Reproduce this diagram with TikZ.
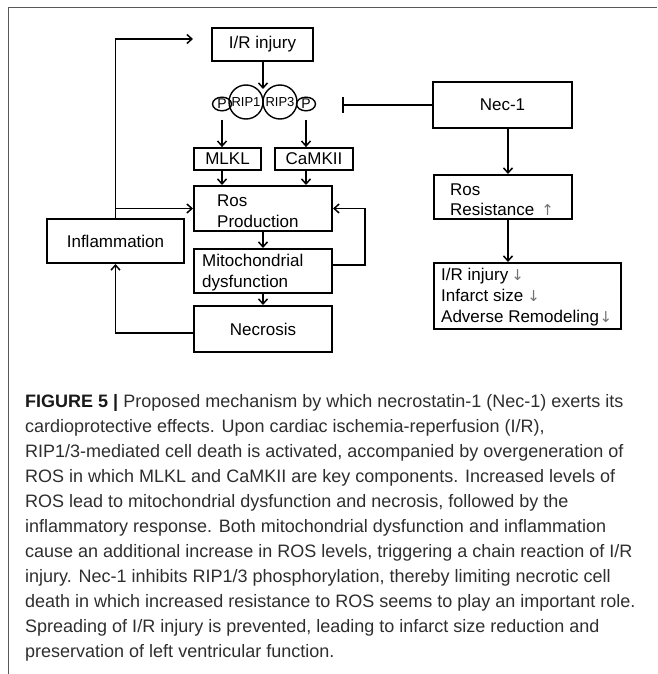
\documentclass[tikz,border=0pt]{standalone}
\usepackage{fontspec}
\setmainfont{Liberation Sans}
\newfontfamily\arrowfont{DejaVu Sans}
\usetikzlibrary{arrows.meta,calc,shapes.geometric}
\begin{document}
\begin{tikzpicture}[x=1pt,y=-1pt,
  box/.style={draw, line width=2pt, inner sep=0pt, font=\fontsize{17}{21}\selectfont},
  sbox/.style={draw, line width=1.8pt, inner sep=0pt, font=\fontsize{17}{21}\selectfont},
  txt/.style={inner sep=0pt, anchor=base west, font=\fontsize{17}{21}\selectfont},
  circ/.style={draw, circle, line width=1.4pt, minimum size=34pt, inner sep=0pt, font=\fontsize{13}{15}\selectfont},
  pell/.style={draw, ellipse, line width=1.4pt, minimum width=19pt, minimum height=12.5pt, inner sep=0pt, font=\fontsize{14}{14}\selectfont},
  arr/.style={line width=1.5pt, -{Straight Barb[length=5pt,width=9pt,line width=1.5pt]}},
  inh/.style={line width=1.7pt, -{Bar[width=16pt,line width=1.7pt]}},
  captxt/.style={inner sep=0pt, anchor=base west, font=\fontsize{18}{25}\selectfont, text=black!82}]
\newcommand\upar{{\arrowfont\fontsize{15}{15}\selectfont\color{black!55}↑}}
\newcommand\dnar{{\arrowfont\fontsize{15}{15}\selectfont\color{black!55}↓}}
\useasboundingbox (0,0) rectangle (657,674);
\draw[black!65, line width=1pt] (8,674) -- (8,8) -- (657,8);

% left pathway
\node[box, minimum width=101pt, minimum height=33pt] (ir) at (262.5,44.5) {I/R injury};
\node[circ] (rip1) at (246,102) {RIP1};
\node[circ] (rip3) at (280,102) {RIP3};
\node[pell] (pl) at (222,104) {P};
\node[pell] (pr) at (306,104) {P};
\coordinate (j) at (263,89);
\draw[arr] (ir.south -| j) -- (j);

\node[sbox, minimum width=67pt, minimum height=22pt] (mlkl) at (227.5,159) {MLKL};
\node[sbox, minimum width=78pt, minimum height=22pt] (camk) at (314,159) {CaMKII};
\draw[arr, shorten <=8pt] (pl.south) -- (mlkl.north -| pl);
\draw[arr, shorten <=8pt] (pr.south) -- (camk.north -| pr);

\node[box, minimum width=138pt, minimum height=45pt] (ros) at (263,208.5) {};
\node[txt] (rosA) at (217,206) {Ros};
\node[txt] (rosB) at (217,227) {Production};
\draw[arr] (mlkl.south -| pl) -- (ros.north -| pl);
\draw[arr] (camk.south -| pr) -- (ros.north -| pr);

\node[box, minimum width=138pt, minimum height=44pt] (mito) at (263,271) {};
\node[txt] (mitoA) at (202,266) {Mitochondrial};
\node[txt] (mitoB) at (202,287) {dysfunction};
\node[box, minimum width=138pt, minimum height=46pt] (necr) at (263,329) {Necrosis};
\draw[arr] (ros.south) -- (mito.north);
\draw[arr] (mito.south) -- (necr.north);

\node[box, minimum width=137pt, minimum height=44pt] (infl) at (115.5,241) {Inflammation};
\coordinate (tr) at (193,39);
\draw[arr] (infl.north) -- (infl.north |- tr) -- (tr);
\draw[arr] (infl.north |- ros.west) -- (ros.west);
\coordinate (nw) at ($(necr.west)+(0,4)$);
\draw[arr] (nw) -- (nw -| infl.south) -- (infl.south);
\coordinate (fb) at (365,0);
\coordinate (me) at ($(mito.east)+(0,-6)$);
\draw[arr] (me) -- (me -| fb) -- (ros.east -| fb) -- (ros.east);

% right pathway
\node[box, minimum width=139pt, minimum height=46pt] (nec) at (502.5,105) {Nec-1};
\coordinate (inhend) at (342,105);
\draw[inh] (nec.west) -- (inhend);
\node[box, minimum width=138pt, minimum height=44pt] (rr) at (503,197) {};
\node[txt] (rrA) at (450,195) {Ros};
\node[txt] (rrB) at (450,215) {Resistance\hspace{7pt}\upar};
\node[box, minimum width=187pt, minimum height=66pt] (res) at (527.5,296) {};
\node[txt] (resA) at (441,280) {I/R injury\hspace{3pt}\dnar};
\node[txt] (resB) at (441,301) {Infarct size\hspace{4pt}\dnar};
\node[txt] (resC) at (441,322) {Adverse Remodeling\hspace{0.5pt}\dnar};
\coordinate (cx) at (508,0);
\draw[arr] (nec.south -| cx) -- (rr.north -| cx);
\draw[arr] (rr.south -| cx) -- (res.north -| cx);

% caption
\node[captxt] (c1) at (25,407) {{\bfseries\color{black!90}FIGURE 5 |} Proposed mechanism by which necrostatin-1 (Nec-1) exerts its};
\node[captxt] (c2) at (25,432) {cardioprotective effects. Upon cardiac ischemia-reperfusion (I/R),};
\node[captxt] (c3) at (25,457) {RIP1/3-mediated cell death is activated, accompanied by overgeneration of};
\node[captxt] (c4) at (25,482) {ROS in which MLKL and CaMKII are key components. Increased levels of};
\node[captxt] (c5) at (25,507) {ROS lead to mitochondrial dysfunction and necrosis, followed by the};
\node[captxt] (c6) at (25,532) {inflammatory response. Both mitochondrial dysfunction and inflammation};
\node[captxt] (c7) at (25,557) {cause an additional increase in ROS levels, triggering a chain reaction of I/R};
\node[captxt] (c8) at (25,582) {injury. Nec-1 inhibits RIP1/3 phosphorylation, thereby limiting necrotic cell};
\node[captxt] (c9) at (25,607) {death in which increased resistance to ROS seems to play an important role.};
\node[captxt] (c10) at (25,632) {Spreading of I/R injury is prevented, leading to infarct size reduction and};
\node[captxt] (c11) at (25,657) {preservation of left ventricular function.};
\end{tikzpicture}
\end{document}
